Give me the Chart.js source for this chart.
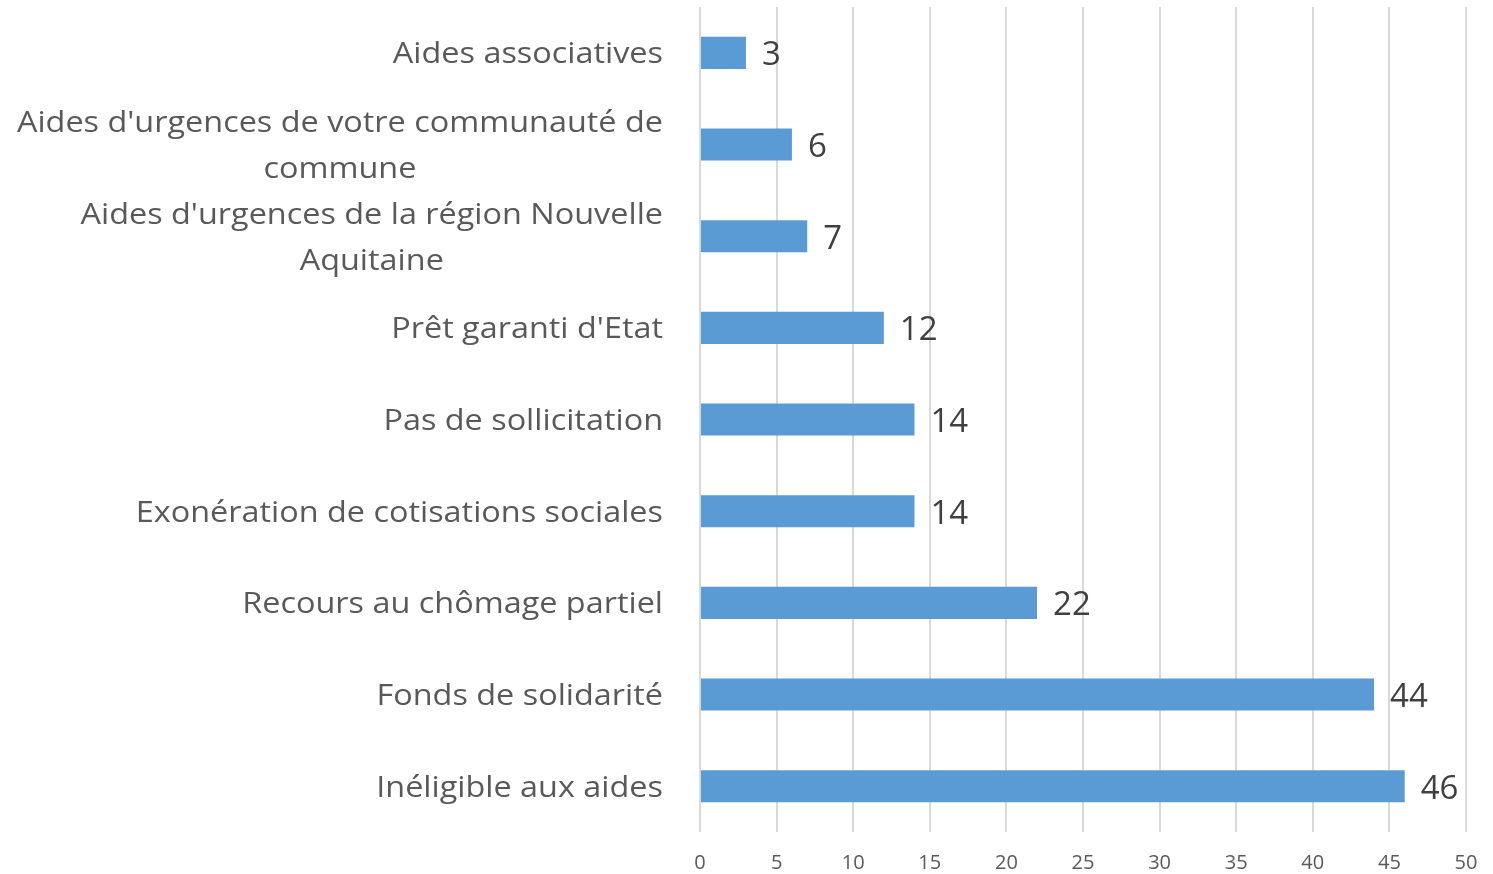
<!DOCTYPE html>
<html>
<head>
<meta charset="utf-8">
<script src="https://cdn.jsdelivr.net/npm/chart.js@4/dist/chart.umd.min.js"></script>
<style>
  html, body { margin: 0; padding: 0; background: #fff; overflow: hidden; }
  #wrap { width: 1493px; height: 874px; position: relative; }
  canvas { display: block; }
</style>
</head>
<body>
<div id="wrap"><canvas id="chartaides"></canvas></div>
<script>
var categories = [
    'Aides associatives',
    'Aides d\'urgences de votre communauté de commune',
    'Aides d\'urgences de la région Nouvelle Aquitaine',
    'Prêt garanti d\'Etat',
    'Pas de sollicitation',
    'Exonération de cotisations sociales',
    'Recours au chômage partiel',
    'Fonds de solidarité',
    'Inéligible aux aides'
];
// how the long labels wrap in the picture
var categoryLines = [
    ['Aides associatives'],
    ['Aides d\'urgences de votre communauté de', 'commune'],
    ['Aides d\'urgences de la région Nouvelle', 'Aquitaine'],
    ['Prêt garanti d\'Etat'],
    ['Pas de sollicitation'],
    ['Exonération de cotisations sociales'],
    ['Recours au chômage partiel'],
    ['Fonds de solidarité'],
    ['Inéligible aux aides']
];
var values = [3, 6, 7, 12, 14, 14, 22, 44, 46];
var xMin = 0, xMax = 50, xStep = 5;

var FONT = '"Open Sans", Lato, sans-serif';
var STRETCH = 1.08; // the original font is a bit wider than Open Sans

/* category labels: block right aligned, lines centered on each other */
var catLabels = {
    id: 'catLabels',
    afterDraw: function (chart) {
        var ctx = chart.ctx;
        var yScale = chart.scales.y;
        var right = chart.chartArea.left - 37;
        ctx.save();
        ctx.font = '30px ' + FONT;
        ctx.fillStyle = '#595959';
        ctx.textAlign = 'center';
        ctx.textBaseline = 'middle';
        ctx.scale(STRETCH, 1);
        for (var i = 0; i < categoryLines.length; i++) {
            var lines = categoryLines[i];
            var w = 0;
            lines.forEach(function (l) { w = Math.max(w, ctx.measureText(l).width * STRETCH); });
            var cx = right - w / 2;
            var cy = yScale.getPixelForValue(i) + 2;
            var lh = 46;
            for (var j = 0; j < lines.length; j++) {
                ctx.fillText(lines[j], cx / STRETCH, cy + (j - (lines.length - 1) / 2) * lh);
            }
        }
        ctx.restore();
    }
};

/* value labels at the end of each bar */
var valueLabels = {
    id: 'valueLabels',
    afterDatasetsDraw: function (chart) {
        var ctx = chart.ctx;
        var meta = chart.getDatasetMeta(0);
        ctx.save();
        ctx.font = '33px ' + FONT;
        ctx.fillStyle = '#404040';
        ctx.textAlign = 'left';
        ctx.textBaseline = 'middle';
        meta.data.forEach(function (bar, i) {
            ctx.fillText(String(values[i]), bar.x + 16, bar.y + 3);
        });
        ctx.restore();
    }
};

var ctx = document.getElementById('chartaides');
var aidesChart = new Chart(ctx, {
    type: 'bar',
    data: {
        labels: categories,
        datasets: [{
            data: values,
            backgroundColor: '#5B9BD5',
            borderWidth: 0,
            barPercentage: 0.7,
            categoryPercentage: 0.5
        }]
    },
    options: {
        indexAxis: 'y',
        responsive: true,
        maintainAspectRatio: false,
        animation: false,
        layout: { padding: { left: 700, right: 27, top: 7, bottom: 0 } },
        plugins: {
            legend: { display: false },
            tooltip: { enabled: false }
        },
        scales: {
            x: {
                min: xMin,
                max: xMax,
                afterFit: function (scale) {
                    scale.height = 42;
                    scale.paddingLeft = 0;
                    scale.paddingRight = 0;
                },
                ticks: {
                    stepSize: xStep,
                    padding: 21,
                    color: '#595959',
                    font: { family: FONT, size: 20, lineHeight: 1 }
                },
                grid: { color: '#D9D9D9', lineWidth: 2, drawTicks: false },
                border: { display: false }
            },
            y: {
                display: false
            }
        }
    },
    plugins: [catLabels, valueLabels]
});
</script>
</body>
</html>
